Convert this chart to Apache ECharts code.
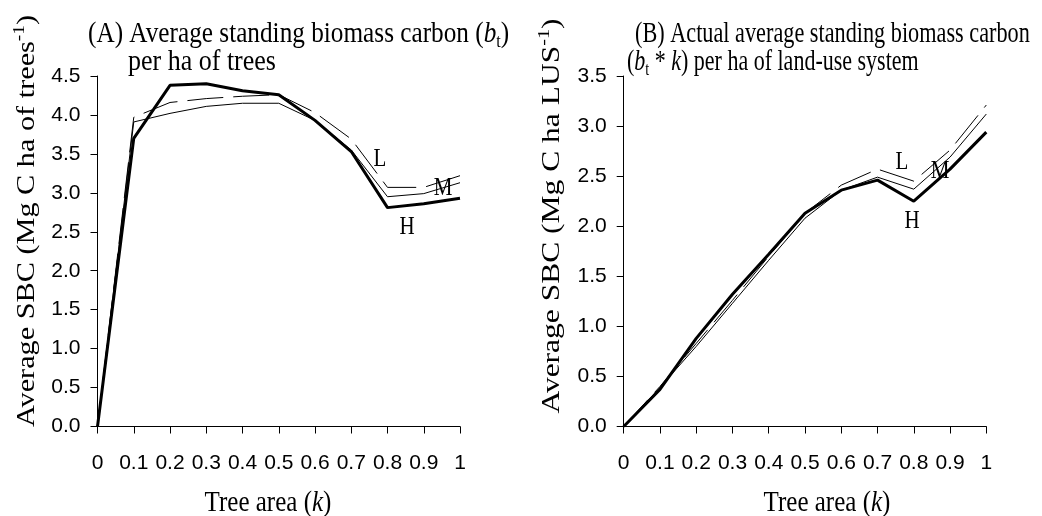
<!DOCTYPE html>
<html>
<head>
<meta charset="utf-8">
<script src="https://cdn.jsdelivr.net/npm/echarts@6/dist/echarts.min.js"></script>
<style>
  html, body { margin: 0; padding: 0; background: #fff; }
  #chart { width: 1042px; height: 516px; }
</style>
</head>
<body>
<div id="chart"></div>
<script>
// tree area k
var kLabels = ['0', '0.1', '0.2', '0.3', '0.4', '0.5', '0.6', '0.7', '0.8', '0.9', '1'];

// (A) average standing biomass carbon per ha of trees
var aLow = [0, 3.97, 4.16, 4.21, 4.24, 4.26, 4.03, 3.69, 3.07, 3.07, 3.22];
var aMid = [0, 3.91, 4.02, 4.11, 4.15, 4.15, 3.93, 3.55, 2.95, 2.99, 3.13];
var aHigh = [0, 3.70, 4.38, 4.40, 4.31, 4.26, 3.93, 3.53, 2.81, 2.86, 2.93];

// (B) actual average standing biomass carbon per ha of land-use system
var bLow = [0, 0.40, 0.83, 1.26, 1.70, 2.13, 2.41, 2.57, 2.45, 2.76, 3.21];
var bMid = [0, 0.39, 0.80, 1.23, 1.66, 2.08, 2.36, 2.49, 2.37, 2.69, 3.12];
var bHigh = [0, 0.37, 0.88, 1.32, 1.72, 2.13, 2.36, 2.46, 2.25, 2.57, 2.94];

var SERIF = '"Liberation Serif", "Times New Roman", serif';
var SANS = '"Liberation Sans", Arial, sans-serif';

var chart = echarts.init(document.getElementById('chart'));

function xAxisOf(idx) {
  return {
    type: 'category',
    gridIndex: idx,
    data: kLabels,
    boundaryGap: false,
    axisLine: { lineStyle: { color: '#000', width: 1 } },
    axisTick: { show: true, length: 7, lineStyle: { color: '#000' } },
    axisLabel: { color: '#000', fontFamily: SANS, fontSize: 21, margin: 26, interval: 0 },
    splitLine: { show: false }
  };
}

function yAxisOf(idx, max) {
  return {
    type: 'value',
    gridIndex: idx,
    min: 0,
    max: max,
    interval: 0.5,
    axisLine: { show: true, lineStyle: { color: '#000', width: 1 } },
    axisTick: { show: true, length: 7, lineStyle: { color: '#000' } },
    axisLabel: {
      color: '#000', fontFamily: SANS, fontSize: 21, margin: 17,
      formatter: function (v) { return v.toFixed(1); }
    },
    splitLine: { show: false }
  };
}

function lineOf(name, idx, data, kind) {
  var style = { color: '#000', width: 1, type: 'solid' };
  if (kind === 'dash') style.type = [36, 10];
  if (kind === 'thick') style.width = 3;
  return {
    name: name,
    type: 'line',
    xAxisIndex: idx,
    yAxisIndex: idx,
    data: data,
    symbol: 'none',
    animation: false,
    lineStyle: style,
    z: kind === 'thick' ? 3 : 2
  };
}

var rich = {
  it: { fontFamily: SERIF, fontSize: 25, fontStyle: 'italic', color: '#000', lineHeight: 30 },
  sub: { fontFamily: SERIF, fontSize: 16, color: '#000', lineHeight: 16, verticalAlign: 'bottom' },
  sup: { fontFamily: SERIF, fontSize: 16, color: '#000', lineHeight: 16, verticalAlign: 'top' }
};

function txt(x, y, text, opts) {
  opts = opts || {};
  return {
    type: 'text',
    x: x,
    y: y,
    rotation: opts.rotation || 0,
    scaleX: opts.scaleX || 1,
    scaleY: opts.scaleY || 1,
    silent: true,
    style: {
      x: 0, y: 0,
      text: text,
      fill: '#000',
      fontFamily: SERIF,
      fontSize: opts.size || 25,
      lineHeight: 30,
      align: opts.align || 'left',
      verticalAlign: 'middle',
      rich: rich
    }
  };
}

var option = {
  backgroundColor: '#fff',
  animation: false,
  grid: [
    { left: 97.5, top: 76, width: 362.5, height: 350.5 },
    { left: 623.7, top: 76, width: 362.6, height: 350.5 }
  ],
  xAxis: [xAxisOf(0), xAxisOf(1)],
  yAxis: [yAxisOf(0, 4.5), yAxisOf(1, 3.5)],
  series: [
    lineOf('L', 0, aLow, 'dash'),
    lineOf('M', 0, aMid, 'thin'),
    lineOf('H', 0, aHigh, 'thick'),
    lineOf('L', 1, bLow, 'dash'),
    lineOf('M', 1, bMid, 'thin'),
    lineOf('H', 1, bHigh, 'thick')
  ],
  graphic: [
    // panel titles
    txt(88, 34, '(A) Average standing biomass carbon ({it|b}{sub|t})', { scaleX: 1.01, scaleY: 1.17 }),
    txt(128, 62, 'per ha of trees', { scaleX: 1.04, scaleY: 1.17 }),
    txt(635, 34, '(B) Actual average standing biomass carbon', { scaleX: 0.89, scaleY: 1.17 }),
    txt(627, 62, '({it|b}{sub|t} * {it|k}) per ha of land-use system', { scaleX: 0.88, scaleY: 1.17 }),
    // axis titles
    txt(268, 503, 'Tree area ({it|k})', { align: 'center', scaleY: 1.17 }),
    txt(827, 503, 'Tree area ({it|k})', { align: 'center', scaleY: 1.17 }),
    txt(27, 221, 'Average SBC (Mg C ha of trees{sup|-1})', { align: 'center', rotation: Math.PI / 2, scaleX: 1.21 }),
    txt(552, 216, 'Average SBC (Mg C ha LUS{sup|-1})', { align: 'center', rotation: Math.PI / 2, scaleX: 1.26 }),
    // line labels
    txt(380, 160, 'L', { align: 'center', size: 21, scaleY: 1.17 }),
    txt(443, 189, 'M', { align: 'center', size: 21, scaleY: 1.17 }),
    txt(407, 228, 'H', { align: 'center', size: 21, scaleY: 1.17 }),
    txt(902, 163, 'L', { align: 'center', size: 21, scaleY: 1.17 }),
    txt(940, 172, 'M', { align: 'center', size: 21, scaleY: 1.17 }),
    txt(912, 222, 'H', { align: 'center', size: 21, scaleY: 1.17 })
  ]
};

chart.setOption(option);
</script>
</body>
</html>
